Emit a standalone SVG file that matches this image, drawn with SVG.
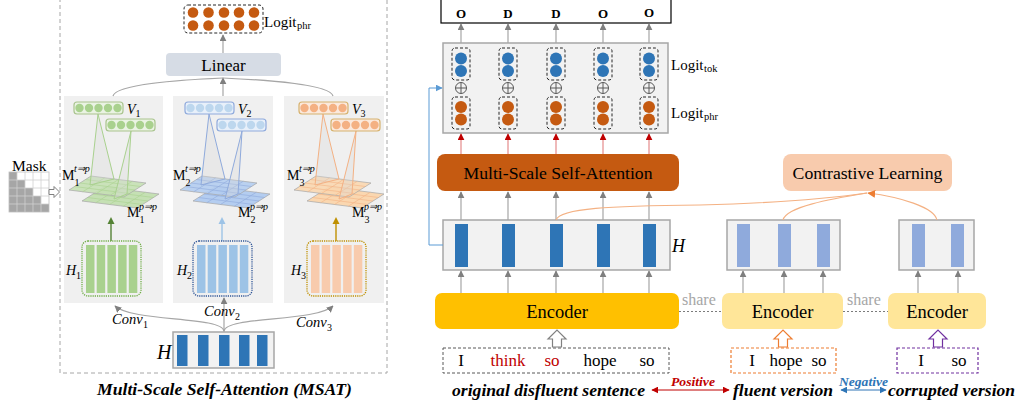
<svg xmlns="http://www.w3.org/2000/svg" width="1020" height="408" viewBox="0 0 1020 408">
<style>
text{font-family:'Liberation Serif','Times New Roman',serif;fill:#000}
.it{font-style:italic}
.bi{font-style:italic;font-weight:bold}
.gl{stroke:#a6a6a6;stroke-width:1.2;fill:none}
.panel{fill:#f0f0f0}
.vb{stroke-width:1.2}
.tl{stroke-width:1;fill:#d9d9d9;fill-opacity:0.35}
.hb{fill:none;stroke-width:1.3;stroke-dasharray:1.2 1}
.g1 .dot,.g1 .bar{fill:#a9d18e}.g1 .vb{fill:#eaf3e3;stroke:#a9c48e}.g1 .tl{stroke:#a9d18e}.g1 .hb{stroke:#70ad47}.g1 .ar{stroke:#548235}.g1 .ah{fill:#548235}
.g2 .dot{fill:#bdd7ee}.g2 .bar{fill:#9dc3e6}.g2 .vb{fill:#e8f0fa;stroke:#8faadc}.g2 .tl{stroke:#8faadc}.g2 .hb{stroke:#2f5597}.g2 .ar{stroke:#9dc3e6}.g2 .ah{fill:#9dc3e6}
.g3 .dot{fill:#f4b183}.g3 .bar{fill:#f8cbad}.g3 .vb{fill:#fbe9dc;stroke:#d6b26e}.g3 .tl{stroke:#f4b183}.g3 .hb{stroke:#bf9000}.g3 .ar{stroke:#bf9000}.g3 .ah{fill:#bf9000}
.bdot{fill:#2e75b6}.odot{fill:#c55a11}
.dbox{fill:none;stroke:#262626;stroke-width:1;stroke-dasharray:3 2}
.gbox{fill:#f2f2f2;stroke:#a6a6a6;stroke-width:1.5}
.rl{stroke:#e58a8a;stroke-width:1.2;fill:none}
.oc{stroke:#f4b183;stroke-width:1.1;fill:none}
</style>
<defs>
<marker id="mg" viewBox="0 0 10 10" refX="9" refY="5" markerWidth="7" markerHeight="7" markerUnits="userSpaceOnUse" orient="auto-start-reverse"><path d="M0,0L10,5L0,10z" fill="#7f7f7f"/></marker>
<marker id="mr" viewBox="0 0 10 10" refX="9" refY="5" markerWidth="7" markerHeight="7" markerUnits="userSpaceOnUse" orient="auto-start-reverse"><path d="M0,0L10,5L0,10z" fill="#c00000"/></marker>
<marker id="mo" viewBox="0 0 10 10" refX="9" refY="5" markerWidth="8" markerHeight="8" markerUnits="userSpaceOnUse" orient="auto-start-reverse"><path d="M0,0L10,5L0,10z" fill="#ed7d31"/></marker>
<marker id="mb" viewBox="0 0 10 10" refX="9" refY="5" markerWidth="7" markerHeight="7" markerUnits="userSpaceOnUse" orient="auto-start-reverse"><path d="M0,0L10,5L0,10z" fill="#2e75b6"/></marker>
<marker id="mbl" viewBox="0 0 10 10" refX="9" refY="5" markerWidth="7" markerHeight="7" markerUnits="userSpaceOnUse" orient="auto-start-reverse"><path d="M0,0L10,5L0,10z" fill="#5b9bd5"/></marker>
<g id="plane">
<polygon points="69,190 91,176 146,183 124,197" stroke="#a6a6a6" stroke-width="0.7"/>
<path fill="none" stroke-width="0.6" d="M82.75,191.75L104.75,177.75M96.5,193.5L118.5,179.5M110.25,195.25L132.25,181.25M74.5,186.5L129.5,193.5M80,183L135,190M85.5,179.5L140.5,186.5"/>
</g>
</defs>

<!-- ============ LEFT PANEL (MSAT) ============ -->
<g id="msat-frame">
<rect x="60" y="-2" width="327" height="375" fill="none" stroke="#a6a6a6" stroke-width="1" stroke-dasharray="4 3"/>
<rect class="panel" x="64" y="96" width="99" height="207"/>
<rect class="panel" x="173" y="96" width="100" height="207"/>
<rect class="panel" x="284" y="96" width="100" height="207"/>
</g>

<g id="mask">
<text x="12" y="171" font-size="15.5">Mask</text>
<rect x="9" y="172" width="40" height="40" fill="#fff"/>
<path d="M9,172h8v8h8v8h8v8h8v8h8v8h-40z" fill="#a6a6a6"/>
<path d="M17,172v40M25,172v40M33,172v40M41,172v40M9,180h40M9,188h40M9,196h40M9,204h40" stroke="#d0d0d0" stroke-width="0.8"/>
<rect x="9" y="172" width="40" height="40" fill="none" stroke="#bfbfbf" stroke-width="0.8"/>
<polygon points="49,189.5 54,189.5 54,186.5 59.5,192 54,197.5 54,194.5 49,194.5" fill="#fff" stroke="#808080" stroke-width="1"/>
</g>

<g id="logit-phr-top">
<rect class="dbox" x="184" y="5" width="79" height="28" rx="4" stroke="#595959"/>
<g class="odot">
<circle cx="193" cy="12.5" r="5.3"/><circle cx="208.5" cy="12.5" r="5.3"/><circle cx="224" cy="12.5" r="5.3"/><circle cx="239" cy="12.5" r="5.3"/><circle cx="254" cy="12.5" r="5.3"/>
<circle cx="193" cy="25.5" r="5.3"/><circle cx="208.5" cy="25.5" r="5.3"/><circle cx="224" cy="25.5" r="5.3"/><circle cx="239" cy="25.5" r="5.3"/><circle cx="254" cy="25.5" r="5.3"/>
</g>
<text x="264" y="27" font-size="15">Logit</text>
<text x="297" y="29" font-size="10.5">phr</text>
</g>

<g id="linear">
<rect x="166" y="53" width="115" height="23" rx="4" fill="#d6dce5"/>
<text x="223.5" y="70.5" font-size="17" text-anchor="middle">Linear</text>
</g>

<g id="branch1" class="g1">
<use href="#plane" transform="translate(13,11)" fill="#c5e0b4" stroke="#a9d18e"/>
<use href="#plane" fill="#c5e0b4" stroke="#a9d18e" fill-opacity="0.9"/>
<polygon class="tl" points="98,114 90,185 114,179"/>
<polygon class="tl" points="131,131 114,199 127,194"/>
<rect class="vb" x="74" y="102" width="49" height="12" rx="3"/>
<g class="dot"><circle cx="79.5" cy="108" r="4.2"/><circle cx="89" cy="108" r="4.2"/><circle cx="98.5" cy="108" r="4.2"/><circle cx="108" cy="108" r="4.2"/><circle cx="117.5" cy="108" r="4.2"/></g>
<rect class="vb" x="106" y="119" width="49" height="12" rx="3"/>
<g class="dot"><circle cx="111.5" cy="125" r="4.2"/><circle cx="121" cy="125" r="4.2"/><circle cx="130.5" cy="125" r="4.2"/><circle cx="140" cy="125" r="4.2"/><circle cx="149.5" cy="125" r="4.2"/></g>
<text class="it" x="127" y="114" font-size="14">V</text><text x="135.5" y="117" font-size="10">1</text>
<text x="62" y="180" font-size="14">M</text><text class="it" x="74" y="172" font-size="10">t⇒p</text><text x="74.5" y="186" font-size="10">1</text>
<text x="127" y="217" font-size="14">M</text><text class="it" x="139" y="210" font-size="10">p⇒p</text><text x="139.5" y="223" font-size="10">1</text>
<path class="ar" d="M111,241V223" stroke-width="1.4"/><polygon class="ah" points="107.5,224 114.5,224 111,217"/>
<rect class="hb" x="82" y="241" width="59" height="55" rx="6"/>
<g class="bar"><rect x="86" y="245" width="8.5" height="48"/><rect x="96.7" y="245" width="8.5" height="48"/><rect x="107.4" y="245" width="8.5" height="48"/><rect x="118.1" y="245" width="8.5" height="48"/><rect x="128.8" y="245" width="8.5" height="48"/></g>
<text class="it" x="66" y="275" font-size="14">H</text><text x="76" y="279" font-size="10">1</text>
</g>

<g id="branch2" class="g2" transform="translate(111,0)">
<use href="#plane" transform="translate(13,11)" fill="#b4cdf0" stroke="#8faadc"/>
<use href="#plane" fill="#b4cdf0" stroke="#8faadc" fill-opacity="0.9"/>
<polygon class="tl" points="98,114 90,185 114,179"/>
<polygon class="tl" points="131,131 114,199 127,194"/>
<rect class="vb" x="74" y="102" width="49" height="12" rx="3"/>
<g class="dot"><circle cx="79.5" cy="108" r="4.2"/><circle cx="89" cy="108" r="4.2"/><circle cx="98.5" cy="108" r="4.2"/><circle cx="108" cy="108" r="4.2"/><circle cx="117.5" cy="108" r="4.2"/></g>
<rect class="vb" x="106" y="119" width="49" height="12" rx="3"/>
<g class="dot"><circle cx="111.5" cy="125" r="4.2"/><circle cx="121" cy="125" r="4.2"/><circle cx="130.5" cy="125" r="4.2"/><circle cx="140" cy="125" r="4.2"/><circle cx="149.5" cy="125" r="4.2"/></g>
<text class="it" x="127" y="114" font-size="14">V</text><text x="135.5" y="117" font-size="10">2</text>
<text x="62" y="180" font-size="14">M</text><text class="it" x="74" y="172" font-size="10">t⇒p</text><text x="74.5" y="186" font-size="10">2</text>
<text x="127" y="217" font-size="14">M</text><text class="it" x="139" y="210" font-size="10">p⇒p</text><text x="139.5" y="223" font-size="10">2</text>
<path class="ar" d="M111,241V223" stroke-width="1.4"/><polygon class="ah" points="107.5,224 114.5,224 111,217"/>
<rect class="hb" x="82" y="241" width="59" height="55" rx="6"/>
<g class="bar"><rect x="86" y="245" width="8.5" height="48"/><rect x="96.7" y="245" width="8.5" height="48"/><rect x="107.4" y="245" width="8.5" height="48"/><rect x="118.1" y="245" width="8.5" height="48"/><rect x="128.8" y="245" width="8.5" height="48"/></g>
<text class="it" x="66" y="275" font-size="14">H</text><text x="76" y="279" font-size="10">2</text>
</g>

<g id="branch3" class="g3" transform="translate(225,0)">
<use href="#plane" transform="translate(13,11)" fill="#fad7b0" stroke="#f4b183"/>
<use href="#plane" fill="#fad7b0" stroke="#f4b183" fill-opacity="0.9"/>
<polygon class="tl" points="98,114 90,185 114,179"/>
<polygon class="tl" points="131,131 114,199 127,194"/>
<rect class="vb" x="74" y="102" width="49" height="12" rx="3"/>
<g class="dot"><circle cx="79.5" cy="108" r="4.2"/><circle cx="89" cy="108" r="4.2"/><circle cx="98.5" cy="108" r="4.2"/><circle cx="108" cy="108" r="4.2"/><circle cx="117.5" cy="108" r="4.2"/></g>
<rect class="vb" x="106" y="119" width="49" height="12" rx="3"/>
<g class="dot"><circle cx="111.5" cy="125" r="4.2"/><circle cx="121" cy="125" r="4.2"/><circle cx="130.5" cy="125" r="4.2"/><circle cx="140" cy="125" r="4.2"/><circle cx="149.5" cy="125" r="4.2"/></g>
<text class="it" x="127" y="114" font-size="14">V</text><text x="135.5" y="117" font-size="10">3</text>
<text x="62" y="180" font-size="14">M</text><text class="it" x="74" y="172" font-size="10">t⇒p</text><text x="74.5" y="186" font-size="10">3</text>
<text x="127" y="217" font-size="14">M</text><text class="it" x="139" y="210" font-size="10">p⇒p</text><text x="139.5" y="223" font-size="10">3</text>
<path class="ar" d="M111,241V223" stroke-width="1.4"/><polygon class="ah" points="107.5,224 114.5,224 111,217"/>
<rect class="hb" x="82" y="241" width="59" height="55" rx="6"/>
<g class="bar"><rect x="86" y="245" width="8.5" height="48"/><rect x="96.7" y="245" width="8.5" height="48"/><rect x="107.4" y="245" width="8.5" height="48"/><rect x="118.1" y="245" width="8.5" height="48"/><rect x="128.8" y="245" width="8.5" height="48"/></g>
<text class="it" x="66" y="275" font-size="14">H</text><text x="76" y="279" font-size="10">3</text>
</g>

<g id="h-input">
<rect class="gbox" x="173" y="332" width="101" height="36"/>
<g fill="#2e75b6"><rect x="177" y="335" width="10.5" height="31"/><rect x="198" y="335" width="10.5" height="31"/><rect x="219" y="335" width="10.5" height="31"/><rect x="239" y="335" width="10.5" height="31"/><rect x="257" y="335" width="10.5" height="31"/></g>
<text class="it" x="157" y="359" font-size="20">H</text>
</g>

<g id="msat-connectors">
<path class="gl" d="M223,53V35" marker-end="url(#mg)"/>
<path class="gl" d="M223,96V78" marker-end="url(#mg)"/>
<path class="gl" d="M113,96C116,84 180,80 223,78"/>
<path class="gl" d="M333,96C330,84 266,80 223,78"/>
<path class="gl" d="M224,332V298" marker-end="url(#mg)"/>
<path class="gl" d="M224,331C222,316 132,322 115,306" marker-end="url(#mg)"/>
<path class="gl" d="M224,331C226,316 316,322 333,306" marker-end="url(#mg)"/>
</g>
<g id="conv-labels">
<text class="it" x="112" y="324" font-size="14.5">Conv</text><text x="143" y="328" font-size="10">1</text>
<text class="it" x="204" y="316" font-size="14.5">Conv</text><text x="235" y="320" font-size="10">2</text>
<text class="it" x="296" y="327" font-size="14.5">Conv</text><text x="327" y="331" font-size="10">3</text>
</g>
<text class="bi" x="97" y="395" font-size="16" textLength="255" lengthAdjust="spacingAndGlyphs">Multi-Scale Self-Attention (MSAT)</text>

<!-- ============ RIGHT PART ============ -->
<g id="output">
<rect x="441" y="-2" width="230" height="25" fill="#fff" stroke="#000" stroke-width="1.2"/>
<g font-size="13" font-weight="bold" text-anchor="middle">
<text x="461" y="18">O</text><text x="508" y="18">D</text><text x="556" y="18">D</text><text x="603" y="18">O</text><text x="649" y="17">O</text>
</g>
</g>

<g id="logits">
<rect class="gbox" x="443" y="43" width="225" height="90"/>
<g id="logit-cols">
<g transform="translate(461,0)"><rect class="dbox" x="-9" y="48" width="18" height="32" rx="3"/><circle class="bdot" cy="58.5" r="6"/><circle class="bdot" cy="71" r="6"/><circle cy="88" r="5.5" fill="none" stroke="#595959"/><path d="M-5.5,88h11M0,82.5v11" stroke="#595959"/><rect class="dbox" x="-9" y="97" width="18" height="32" rx="3"/><circle class="odot" cy="107" r="6"/><circle class="odot" cy="119.5" r="6"/></g>
<g transform="translate(508,0)"><rect class="dbox" x="-9" y="48" width="18" height="32" rx="3"/><circle class="bdot" cy="58.5" r="6"/><circle class="bdot" cy="71" r="6"/><circle cy="88" r="5.5" fill="none" stroke="#595959"/><path d="M-5.5,88h11M0,82.5v11" stroke="#595959"/><rect class="dbox" x="-9" y="97" width="18" height="32" rx="3"/><circle class="odot" cy="107" r="6"/><circle class="odot" cy="119.5" r="6"/></g>
<g transform="translate(556,0)"><rect class="dbox" x="-9" y="48" width="18" height="32" rx="3"/><circle class="bdot" cy="58.5" r="6"/><circle class="bdot" cy="71" r="6"/><circle cy="88" r="5.5" fill="none" stroke="#595959"/><path d="M-5.5,88h11M0,82.5v11" stroke="#595959"/><rect class="dbox" x="-9" y="97" width="18" height="32" rx="3"/><circle class="odot" cy="107" r="6"/><circle class="odot" cy="119.5" r="6"/></g>
<g transform="translate(603,0)"><rect class="dbox" x="-9" y="48" width="18" height="32" rx="3"/><circle class="bdot" cy="58.5" r="6"/><circle class="bdot" cy="71" r="6"/><circle cy="88" r="5.5" fill="none" stroke="#595959"/><path d="M-5.5,88h11M0,82.5v11" stroke="#595959"/><rect class="dbox" x="-9" y="97" width="18" height="32" rx="3"/><circle class="odot" cy="107" r="6"/><circle class="odot" cy="119.5" r="6"/></g>
<g transform="translate(649,0)"><rect class="dbox" x="-9" y="48" width="18" height="32" rx="3"/><circle class="bdot" cy="58.5" r="6"/><circle class="bdot" cy="71" r="6"/><circle cy="88" r="5.5" fill="none" stroke="#595959"/><path d="M-5.5,88h11M0,82.5v11" stroke="#595959"/><rect class="dbox" x="-9" y="97" width="18" height="32" rx="3"/><circle class="odot" cy="107" r="6"/><circle class="odot" cy="119.5" r="6"/></g>
</g>
<text x="671" y="70" font-size="15">Logit</text><text x="704" y="72" font-size="10.5">tok</text>
<text x="671" y="118" font-size="15">Logit</text><text x="704" y="120" font-size="10.5">phr</text>
</g>

<g id="msa">
<rect x="437" y="154" width="242" height="37" rx="8" fill="#c55a11"/>
<text x="558" y="179" font-size="17.7" text-anchor="middle">Multi-Scale Self-Attention</text>
</g>

<g id="contrastive">
<rect x="783" y="154" width="169" height="37" rx="8" fill="#f8cbad"/>
<text x="867.5" y="179" font-size="17.7" text-anchor="middle">Contrastive Learning</text>
</g>

<g id="h-main">
<rect class="gbox" x="443" y="220" width="227" height="50"/>
<g fill="#2e75b6"><rect x="455" y="224" width="13" height="43"/><rect x="502" y="224" width="13" height="43"/><rect x="550" y="224" width="13" height="43"/><rect x="597" y="224" width="13" height="43"/><rect x="643" y="224" width="13" height="43"/></g>
<text class="it" x="672" y="252" font-size="18">H</text>
</g>
<g id="h-fluent">
<rect class="gbox" x="727" y="220" width="113" height="50"/>
<g fill="#8faadc"><rect x="737" y="224" width="13" height="43"/><rect x="778" y="224" width="13" height="43"/><rect x="817" y="224" width="13" height="43"/></g>
</g>
<g id="h-corrupted">
<rect class="gbox" x="899" y="220" width="75" height="50"/>
<g fill="#8faadc"><rect x="912" y="224" width="13" height="43"/><rect x="951" y="224" width="13" height="43"/></g>
</g>

<g id="encoder-main">
<rect x="435" y="293" width="244" height="36" rx="7" fill="#ffc000"/>
<text x="557" y="317.5" font-size="18.5" text-anchor="middle">Encoder</text>
</g>
<g id="encoder-fluent">
<rect x="722" y="293" width="121" height="36" rx="7" fill="#ffe699"/>
<text x="782.5" y="317.5" font-size="18.5" text-anchor="middle">Encoder</text>
</g>
<g id="encoder-corrupted">
<rect x="888" y="293" width="98" height="36" rx="7" fill="#ffe699"/>
<text x="937" y="317.5" font-size="18.5" text-anchor="middle">Encoder</text>
</g>

<g id="sent-original">
<rect x="443" y="348" width="226" height="25" fill="none" stroke="#595959" stroke-width="1" stroke-dasharray="3 2"/>
<g font-size="17" text-anchor="middle"><text x="461" y="366">I</text><text x="508" y="366" style="fill:#c00000">think</text><text x="552" y="366" style="fill:#c00000">so</text><text x="600" y="366">hope</text><text x="647" y="366">so</text></g>
</g>
<g id="sent-fluent">
<rect x="731" y="348" width="105" height="25" fill="none" stroke="#ed7d31" stroke-width="1.2" stroke-dasharray="3 2"/>
<g font-size="17" text-anchor="middle"><text x="752" y="366">I</text><text x="786" y="366">hope</text><text x="819" y="366">so</text></g>
</g>
<g id="sent-corrupted">
<rect x="897" y="348" width="81" height="25" fill="none" stroke="#7030a0" stroke-width="1.2" stroke-dasharray="3 2"/>
<g font-size="17" text-anchor="middle"><text x="921" y="366">I</text><text x="959" y="366">so</text></g>
</g>

<g id="input-arrows">
<polygon points="552.5,347 561.5,347 561.5,339 566,339 557,330 548,339 552.5,339" fill="#fff" stroke="#808080" stroke-width="1.2"/>
<polygon points="778.5,347 787.5,347 787.5,339 792,339 783,330 774,339 778.5,339" fill="#fff" stroke="#ed7d31" stroke-width="1.2"/>
<polygon points="933.5,347 942.5,347 942.5,339 947,339 938,330 929,339 933.5,339" fill="#fff" stroke="#7030a0" stroke-width="1.2"/>
</g>

<g id="connectors">
<g class="gl">
<path d="M461,43V24" marker-end="url(#mg)"/><path d="M508,43V24" marker-end="url(#mg)"/><path d="M556,43V24" marker-end="url(#mg)"/><path d="M603,43V24" marker-end="url(#mg)"/><path d="M649,43V24" marker-end="url(#mg)"/>
<path d="M461,220V192" marker-end="url(#mg)"/><path d="M508,220V192" marker-end="url(#mg)"/><path d="M556,220V192" marker-end="url(#mg)"/><path d="M603,220V192" marker-end="url(#mg)"/><path d="M649,220V192" marker-end="url(#mg)"/>
<path d="M461,293V271" marker-end="url(#mg)"/><path d="M508,293V271" marker-end="url(#mg)"/><path d="M556,293V271" marker-end="url(#mg)"/><path d="M603,293V271" marker-end="url(#mg)"/><path d="M649,293V271" marker-end="url(#mg)"/>
<path d="M743,293V271" marker-end="url(#mg)"/><path d="M784,293V271" marker-end="url(#mg)"/><path d="M823,293V271" marker-end="url(#mg)"/>
<path d="M918,293V271" marker-end="url(#mg)"/><path d="M958,293V271" marker-end="url(#mg)"/>
</g>
<g class="rl">
<path d="M461,154V134" marker-end="url(#mr)"/><path d="M508,154V134" marker-end="url(#mr)"/><path d="M556,154V134" marker-end="url(#mr)"/><path d="M603,154V134" marker-end="url(#mr)"/><path d="M649,154V134" marker-end="url(#mr)"/>
</g>
<path d="M443,245H429V88H442" fill="none" stroke="#5b9bd5" stroke-width="1" marker-end="url(#mbl)"/>
<path class="oc" d="M556,220C560,208 610,206 700,205C780,203 840,197 867,193"/>
<path class="oc" d="M783,220C786,207 830,199 867,193"/>
<path class="oc" d="M937,220C934,207 900,197 868,193" marker-end="url(#mo)"/>
<path d="M679,311.5H722M843,311.5H888" stroke="#595959" stroke-width="0.8" stroke-dasharray="2 2"/>
<path d="M652,390H729" stroke="#c00000" stroke-width="1" marker-start="url(#mr)" marker-end="url(#mr)"/>
<path d="M841,390H886" stroke="#2e75b6" stroke-width="1" marker-start="url(#mb)" marker-end="url(#mb)"/>
</g>

<g id="share-labels" font-size="16">
<text x="682" y="305" style="fill:#a6a6a6">share</text>
<text x="847" y="305" style="fill:#a6a6a6">share</text>
</g>

<g id="captions">
<text class="bi" x="452" y="396" font-size="16" textLength="193" lengthAdjust="spacingAndGlyphs">original disfluent sentence</text>
<text class="bi" x="671" y="386" font-size="11.5" style="fill:#c00000" textLength="44" lengthAdjust="spacingAndGlyphs">Positive</text>
<text class="bi" x="733" y="396" font-size="16" textLength="100" lengthAdjust="spacingAndGlyphs">fluent version</text>
<text class="bi" x="839" y="386" font-size="11.5" style="fill:#2e75b6" textLength="49" lengthAdjust="spacingAndGlyphs">Negative</text>
<text class="bi" x="888" y="396" font-size="16" textLength="127" lengthAdjust="spacingAndGlyphs">corrupted version</text>
</g>
</svg>
